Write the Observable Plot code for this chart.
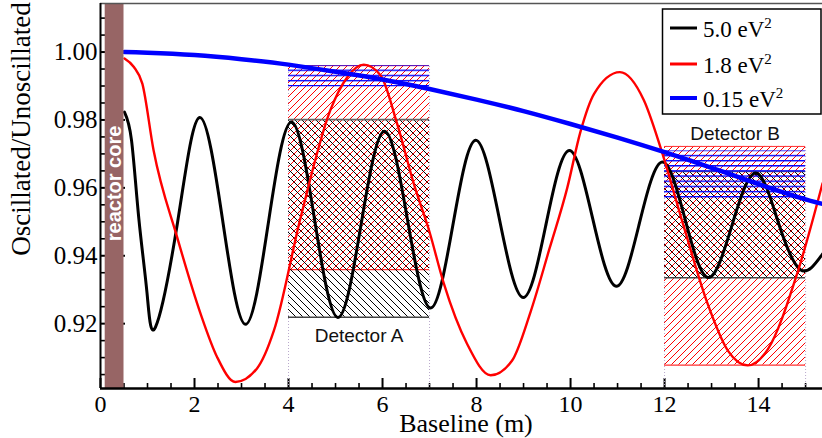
<!DOCTYPE html>
<html>
<head>
<meta charset="utf-8">
<script src="https://cdn.jsdelivr.net/npm/d3@7"></script>
<script src="https://cdn.jsdelivr.net/npm/@observablehq/plot@0.6"></script>
<style>
  body { margin: 0; background: #fff; }
  #chart { width: 822px; height: 438px; }
</style>
</head>
<body>
<div id="chart"></div>
<script>
// ---------- series ----------
const massSplittings = ["5.0", "1.8", "0.15"];
const seriesColors = ["#000000", "#ff0000", "#0000ff"];

// Δm² = 5.0 eV²
const black_L = [0.51, 0.66, 0.815, 0.99, 1.17, 1.64, 2.11, 2.60, 3.085, 3.57, 4.06, 4.555, 5.05, 5.545, 6.04, 6.53, 7.02, 7.50, 7.98, 8.485, 8.99, 9.48, 9.97, 10.47, 10.97, 11.46, 11.95, 12.44, 12.93, 13.435, 13.94, 14.415, 14.89, 15.36];
const black_R = [0.9823, 0.9740, 0.9510, 0.9290, 0.9190, 0.9499, 0.9807, 0.9503, 0.9198, 0.9496, 0.9794, 0.9506, 0.9218, 0.9493, 0.9767, 0.9507, 0.9246, 0.9493, 0.9740, 0.9509, 0.9277, 0.9494, 0.9710, 0.9510, 0.9310, 0.9493, 0.9676, 0.9506, 0.9336, 0.9490, 0.9644, 0.9500, 0.9359, 0.9405];

// Δm² = 1.8 eV²
const red_L = [0.51, 0.71, 0.89, 1.13, 1.63, 2.13, 2.48, 2.87, 3.33, 3.69, 4.26, 4.89, 5.25, 5.60, 5.96, 6.31, 6.67, 7.00, 7.30, 7.80, 8.30, 8.75, 9.15, 9.55, 9.93, 10.21, 10.50, 11.05, 11.56, 11.91, 12.40, 12.90, 13.35, 13.77, 14.20, 14.82, 15.36];
const red_R = [0.9981, 0.9956, 0.9907, 0.9710, 0.9455, 0.9229, 0.9102, 0.9028, 0.9068, 0.9180, 0.9514, 0.9829, 0.9926, 0.9963, 0.9931, 0.9789, 0.9610, 0.9470, 0.9320, 0.9140, 0.9048, 0.9090, 0.9235, 0.9420, 0.9600, 0.9765, 0.9877, 0.9941, 0.9858, 0.9721, 0.9490, 0.9265, 0.9120, 0.9077, 0.9125, 0.9347, 0.9613];

// Δm² = 0.15 eV²
const blue_L = [0.51, 1, 2, 3, 4, 5, 6, 7, 8, 9, 10, 11, 12, 13, 14, 15, 15.36];
const blue_R = [1.0000, 0.9998, 0.9991, 0.9979, 0.9963, 0.9942, 0.9919, 0.9891, 0.9860, 0.9826, 0.9788, 0.9748, 0.9705, 0.9659, 0.9611, 0.9566, 0.9553];

// detectors
const detectorNames = ["Detector A", "Detector B"];
const detectorStart = [4, 12];
const detectorEnd = [7, 15];
const redLow = [0.9359, 0.9078];
const redHigh = [0.9960, 0.9722];
const blackLow = [0.9219, 0.9335];
const blackHigh = [0.9801, 0.9648];
const blueLow = [0.9897, 0.9569];
const blueHigh = [0.9960, 0.9709];

// reactor core
const reactorStart = [0.1];
const reactorEnd = [0.5];
const reactorLabel = ["reactor core"];

// ticks
const xTicks = [0, 2, 4, 6, 8, 10, 12, 14];
const xMinorTicks = [0.5, 1, 1.5, 2.5, 3, 3.5, 4.5, 5, 5.5, 6.5, 7, 7.5, 8.5, 9, 9.5, 10.5, 11, 11.5, 12.5, 13, 13.5, 14.5, 15];
const yTicks = [0.92, 0.94, 0.96, 0.98, 1.00];
const yMinorTicks = [0.905, 0.91, 0.915, 0.925, 0.93, 0.935, 0.945, 0.95, 0.955, 0.965, 0.97, 0.975, 0.985, 0.99, 0.995, 1.005, 1.01];

const xDomain = [0, 15.36];
const yDomain = [0.9009, 1.0143];

// ---------- build tables ----------
const seriesL = [black_L, red_L, blue_L];
const seriesR = [black_R, red_R, blue_R];
const curves = seriesL.map((L, s) => L.map((x, i) => ({x, y: seriesR[s][i]})));
const detectors = detectorNames.map((name, i) => ({
  name, x1: detectorStart[i], x2: detectorEnd[i],
  rLo: redLow[i], rHi: redHigh[i], kLo: blackLow[i], kHi: blackHigh[i],
  bLo: blueLow[i], bHi: blueHigh[i], xm: (detectorStart[i] + detectorEnd[i]) / 2
}));
const edges = detectors.flatMap(d => [{x: d.x1, top: d.rHi}, {x: d.x2, top: d.rHi}]);
const reactor = reactorLabel.map((t, i) => ({x1: reactorStart[i], x2: reactorEnd[i], t, xm: (reactorStart[i] + reactorEnd[i]) / 2}));

const serif = "Liberation Serif, Times New Roman, serif";
const sans = "Liberation Sans, Arial, sans-serif";

const chart = Plot.plot({
  width: 822, height: 438,
  marginLeft: 100, marginRight: 0, marginTop: 3, marginBottom: 50,
  x: {domain: xDomain},
  y: {domain: yDomain},
  style: {background: "white", overflow: "visible"},
  marks: [
    Plot.axisY({ticks: yMinorTicks, tickSize: -12, tickFormat: () => "", strokeWidth: 1.6, label: null}),
    Plot.axisY({ticks: yTicks, tickSize: -25, tickPadding: 28, tickFormat: d3.format(".2f"), fontSize: 25, fontFamily: serif, strokeWidth: 2, label: null, fill: "black"}),
    Plot.axisX({ticks: xMinorTicks, tickSize: -5, tickFormat: () => "", strokeWidth: 1.6, label: null}),
    Plot.axisX({ticks: xTicks, tickSize: -10, tickPadding: 16, tickFormat: d3.format("d"), fontSize: 24, fontFamily: serif, strokeWidth: 2, label: null, fill: "black"}),

    // dotted detector edges
    Plot.ruleX(edges, {x: "x", y1: yDomain[0], y2: "top", stroke: "#b9a9cc", strokeWidth: 1, strokeDasharray: "1,2"}),

    // red hatched boxes
    Plot.rect(detectors, {x1: "x1", x2: "x2", y1: "rLo", y2: "rHi", fill: "url(#hatchRed)"}),
    Plot.ruleY(detectors, {y: "rLo", x1: "x1", x2: "x2", stroke: "#ff3030", strokeWidth: 1.2}),
    Plot.ruleY(detectors, {y: "rHi", x1: "x1", x2: "x2", stroke: "#ff3030", strokeWidth: 1}),
    // black hatched boxes
    Plot.rect(detectors, {x1: "x1", x2: "x2", y1: "kLo", y2: "kHi", fill: "url(#hatchBlack)"}),
    Plot.ruleY(detectors, {y: "kLo", x1: "x1", x2: "x2", stroke: "#444", strokeWidth: 1.4}),
    Plot.ruleY(detectors, {y: "kHi", x1: "x1", x2: "x2", stroke: "#666", strokeWidth: 1.6}),
    // blue hatched boxes
    Plot.rect([detectors[0]], {x1: "x1", x2: "x2", y1: "bLo", y2: "bHi", fill: "url(#hatchBlueA)"}),
    Plot.rect([detectors[1]], {x1: "x1", x2: "x2", y1: "bLo", y2: "bHi", fill: "url(#hatchBlueB)"}),

    // curves
    Plot.line(curves[0], {x: "x", y: "y", stroke: seriesColors[0], strokeWidth: 3, curve: "natural"}),
    Plot.line(curves[1], {x: "x", y: "y", stroke: seriesColors[1], strokeWidth: 2.4, curve: "monotone-x"}),
    Plot.line(curves[2], {x: "x", y: "y", stroke: seriesColors[2], strokeWidth: 4.5, curve: "natural"}),

    // reactor core
    Plot.rect(reactor, {x1: "x1", x2: "x2", fill: "#976565"}),
    Plot.text(reactor, {x: "xm", y: 0.9613, text: "t", rotate: -90, fill: "white", fontWeight: "bold", fontFamily: sans, fontSize: 20}),

    // detector labels
    Plot.text([detectors[0]], {x: "xm", y: "kLo", text: "name", dy: 25, lineAnchor: "bottom", fontFamily: sans, fontSize: 19, fill: "#111"}),
    Plot.text([detectors[1]], {x: "xm", y: "rHi", text: "name", dy: -6, lineAnchor: "bottom", fontFamily: sans, fontSize: 19, fill: "#111"}),

    // frame
    Plot.ruleY([yDomain[1]], {stroke: "#555", strokeWidth: 1.5}),
    Plot.ruleX([xDomain[0]], {stroke: "black", strokeWidth: 2}),
    Plot.ruleY([yDomain[0]], {stroke: "black", strokeWidth: 2.5})
  ]
});

document.getElementById("chart").appendChild(chart);

// ---------- patterns ----------
const svg = d3.select(chart);
const yS = chart.scale("y");
const defs = svg.insert("defs", ":first-child");
const pr = defs.append("pattern").attr("id", "hatchRed").attr("patternUnits", "userSpaceOnUse").attr("width", 7).attr("height", 7);
pr.append("path").attr("d", "M-1,1 L1,-1 M0,7 L7,0 M6,8 L8,6").attr("stroke", "#ff0000").attr("stroke-width", 1);
const pk = defs.append("pattern").attr("id", "hatchBlack").attr("patternUnits", "userSpaceOnUse").attr("width", 7).attr("height", 7);
pk.append("path").attr("d", "M-1,6 L1,8 M0,0 L7,7 M6,-1 L8,1").attr("stroke", "#000").attr("stroke-width", 1);
["hatchBlueA", "hatchBlueB"].forEach((id, i) => {
  const p = defs.append("pattern").attr("id", id).attr("patternUnits", "userSpaceOnUse")
    .attr("x", 0).attr("y", yS.apply(blueHigh[i]) - 0.7).attr("width", 10).attr("height", 5.15);
  p.append("path").attr("d", "M0,0.7H10").attr("stroke", "#0000ff").attr("stroke-width", 1.4);
});

// ---------- axis titles ----------
svg.append("text").attr("transform", "translate(30,129) rotate(-90)")
  .attr("text-anchor", "middle").attr("font-family", serif).attr("font-size", 27).attr("fill", "black")
  .text("Oscillated/Unoscillated");
svg.append("text").attr("x", 466).attr("y", 432)
  .attr("text-anchor", "middle").attr("font-family", serif).attr("font-size", 26).attr("fill", "black")
  .text("Baseline (m)");

// ---------- legend ----------
const lg = svg.append("g").attr("font-family", serif).attr("text-anchor", "start");
lg.append("rect").attr("x", 662.5).attr("y", 9).attr("width", 158.5).attr("height", 105)
  .attr("fill", "white").attr("stroke", "black").attr("stroke-width", 1.5);
const legendRows = [28, 64, 98];
const legendWidths = [3, 3, 4];
massSplittings.forEach((m, i) => {
  const yy = legendRows[i];
  lg.append("line").attr("x1", 670).attr("x2", 697).attr("y1", yy).attr("y2", yy)
    .attr("stroke", seriesColors[i]).attr("stroke-width", legendWidths[i]);
  const t = lg.append("text").attr("x", 703).attr("y", yy + 8.7).attr("font-size", 23)
    .attr("fill", "black").attr("text-anchor", "start");
  t.append("tspan").text(m + " eV");
  t.append("tspan").attr("font-size", 15).attr("dy", -9).text("2");
});
</script>
</body>
</html>
